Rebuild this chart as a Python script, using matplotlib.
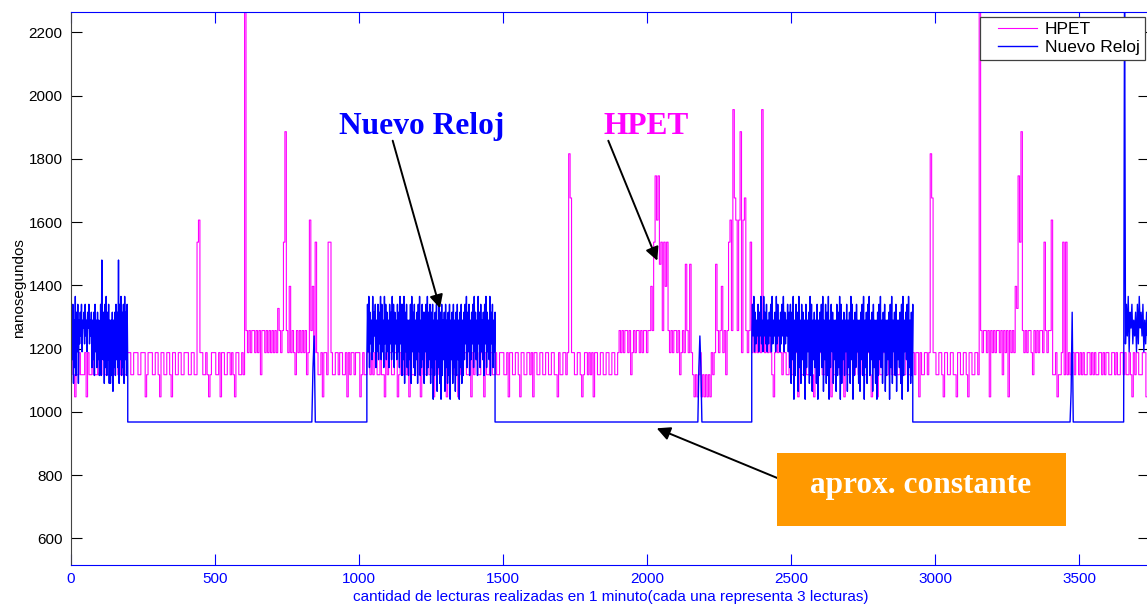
import numpy as np
import matplotlib
matplotlib.use("Agg")
import matplotlib.pyplot as plt
from matplotlib.patches import Rectangle
from matplotlib.lines import Line2D
from matplotlib.legend_handler import HandlerLine2D

# ---------------- data ----------------
# HPET readings are quantised to HPET ticks (~69.84 ns); one code per reading.
HPET_KEYS = "0123456789abcde"
HPET_VALUES = [1047.6, 1117.5, 1187.3, 1257.1, 1327.0, 1396.8, 1466.6, 1536.5,
               1606.3, 1676.2, 1746.0, 1815.9, 1885.7, 1955.5, 2400.0]
CHUNK_SPAN = 100  # readings covered by each chunk below
HPET_CHUNKS = [
    "12101121112021121112", "11221112111221121112", "22112221122201222112",
    "21022112210221122112", "22112211782211210122", "21120221122121022112",
    "1e323233232313323232", "323243237c3252321323", "23231283527211202217",
    "72112212211202122122", "20121122121221121102", "12211220122121202112",
    "21202112211202121122", "20112212102112211202", "12211220211221121122",
    "21120221122102211221", "20221122112211221102", "112212b9221122101221",
    "21202211221122112211", "23232332312323323233", "233537a8a67375732323",
    "32312326326210101201", "01010212632352313783", "d9838c28932372323232",
    "d3232321023232122112", "21122021122112210221", "22112212021122112021",
    "12211221122112210221", "02112211221122112211", "22112212202112212b92",
    "21122102211221102211", "22102211221e32332303", "232332313230323254a7",
    "c3232332132323327323", "38112011271712122122", "12121122121211221212",
    "21122121122121121021", "21202121",
]

# Nuevo Reloj readings: (first reading, last reading, codes)
BLUE_KEYS = "0123456789abcdekz"
BLUE_VALUES = [1040, 1065, 1090, 1115, 1140, 1165, 1190, 1215, 1240, 1265,
               1290, 1315, 1340, 1365, 1480, 968, 2400]
BLUE_SEGMENTS = [
    (0, 197, "3b5c2a4d3b6c2a" "7b8c6a9b7c8a6b9c7a8b" "4a5b3c6a4b5a3"
             "4c3ea5b2c4d3b5c2a" "2a3b1a4b" "3c5b4e2c5d3b4c2d5b3c4"),
    (197, 836, "kk"),
    (836, 848, "k48k"),
    (848, 1027, "kk"),
    (1027, 1472, "5c6d4b7a5d6b8c4a6c5b7d5c6a4d7c5b6a4c7b5d6c4b7a5c6b4d7c"
                 "3c5d2b6c4a3a5c2d6b4c3a5b2c6d3a4c5b2b6c3d4b5c"
                 "2b4c0a3b5c1a4c2b0c3a5b1c4a2b3c0a5b2c4a1b3c5a0b4c2a3b"
                 "5c7d4b6c3a5b7c4d6b5a3d7b4c6a5b3c7d4b6a5d3b7c4a6b"),
    (1472, 2176, "kk"),
    (2176, 2190, "k484k"),
    (2190, 2363, "kk"),
    (2363, 2922, "7c8d6b7a8c6b8d7a6d8b7c6a7b8c6d7a8b6d7c8a6b7c8d6b7a8c6b"
                 "4c2b5d0a3c6b1d4a2c5b3a0c4a6b2d3c1a5b4a2c0a3b6c4d1a5c2b"
                 "3d0a4c6b2a5a1c3b4d0c2a5b3a6c1a4b2d5c0a3b4c6a2a1b5c3d0a"
                 "4b2c6d3a5b1c4a2a0b3c5d4a2b6c1a3a5b0c4d2a6b3c1a5a4b2c0d"
                 "3a6b5c1d4a2b3c"),
    (2922, 3468, "kk"),
    (3468, 3479, "k1bk"),
    (3479, 3654, "kk"),
    (3654, 3740, "kz" "7c8d6b9c7a8b6c7d9b8c6a7b8c"),
]

X_TICKS = [0, 500, 1000, 1500, 2000, 2500, 3000, 3500]
Y_TICKS = [600, 800, 1000, 1200, 1400, 1600, 1800, 2000, 2200]

# ---------------- build series ----------------
hx, hy = [], []
for k, chunk in enumerate(HPET_CHUNKS):
    n = len(chunk)
    for j, c in enumerate(chunk):
        hx.append(k * CHUNK_SPAN + CHUNK_SPAN * j / n)
        hy.append(HPET_VALUES[HPET_KEYS.index(c)])

bx, by = [], []
for x0, x1, codes in BLUE_SEGMENTS:
    bx.extend(np.linspace(x0, x1, len(codes)))
    by.extend(BLUE_VALUES[BLUE_KEYS.index(c)] for c in codes)

# ---------------- figure ----------------
W, H = 1147, 605
fig = plt.figure(figsize=(W / 100, H / 100), dpi=100)
fig.patch.set_facecolor("white")

def fx(px):
    return px / W

def fy(py):
    return 1 - py / H

ax = fig.add_axes([fx(71), fy(565), fx(1149) - fx(71), fy(11.7) - fy(565)])
ax.plot(hx, hy, color="#ff00ff", lw=0.8, drawstyle="steps-mid", label="HPET")
ax.plot(bx, by, color="#0000ff", lw=1.0, label="Nuevo Reloj")

ax.set_xlim(0, 3742)
ax.set_ylim(516, 2265)
ax.set_xticks(X_TICKS)
ax.set_yticks(Y_TICKS)

sans = "Liberation Sans"
serif = "Liberation Serif"
for lab in ax.get_xticklabels() + ax.get_yticklabels():
    lab.set_fontfamily(sans)
ax.tick_params(axis="x", direction="in", length=8, width=0.8, colors="#0000ff",
               top=True, labelsize=11, pad=5)
ax.tick_params(axis="y", direction="in", length=8, width=0.8, colors="black",
               right=True, labelsize=11, pad=6)
ax.spines["bottom"].set_color("#0000ff")
ax.spines["top"].set_color("#0000ff")
ax.spines["left"].set_color("#444444")
ax.spines["right"].set_color("#444444")
for s in ax.spines.values():
    s.set_linewidth(0.8)

fig.text(fx(19), fy(288), "nanosegundos", rotation=90, ha="center", va="center",
         fontsize=11, family=sans, color="black")
fig.text(fx(611), fy(597), "cantidad de lecturas realizadas en 1 minuto(cada una representa 3 lecturas)",
         ha="center", va="center", fontsize=11, family=sans, color="#0000ff")

leg = ax.legend(loc="upper right", bbox_to_anchor=(fx(1145), fy(17)),
                bbox_transform=fig.transFigure, borderaxespad=0, fancybox=False,
                framealpha=1, edgecolor="#404040", prop={"family": sans, "size": 12.5},
                handlelength=3.0, labelspacing=0.15, borderpad=0.3, handletextpad=0.45,
                handler_map={Line2D: HandlerLine2D(xpad=0.75)})
leg.get_frame().set_linewidth(0.9)

# annotations
fig.text(fx(422), fy(134.3), "Nuevo Reloj", ha="center", va="baseline",
         fontsize=22.6, fontweight="bold", family=serif, color="#0000ff")
fig.text(fx(646.5), fy(134.3), "HPET", ha="center", va="baseline",
         fontsize=22.6, fontweight="bold", family=serif, color="#ff00ff")

arrow = dict(arrowstyle="-|>", color="black", lw=1.4, mutation_scale=20,
             shrinkA=0, shrinkB=0)
for (sx, sy), (tx, ty) in [((392.7, 140.7), (440, 308.3)),
                           ((608.3, 140.7), (657.3, 260.7)),
                           ((778, 478.3), (656.7, 428.3))]:
    ax.annotate("", xy=(fx(tx), fy(ty)), xytext=(fx(sx), fy(sy)),
                xycoords="figure fraction", textcoords="figure fraction",
                arrowprops=arrow, annotation_clip=False)

fig.patches.append(Rectangle((fx(777), fy(526)), fx(1066) - fx(777), fy(453) - fy(526),
                             transform=fig.transFigure, facecolor="#ff9900",
                             edgecolor="none", zorder=5))
fig.text(fx(921), fy(493.3), "aprox. constante", ha="center", va="baseline",
         fontsize=22.6, fontweight="bold", family=serif, color="white", zorder=6)

fig.savefig("out.png", dpi=100)
